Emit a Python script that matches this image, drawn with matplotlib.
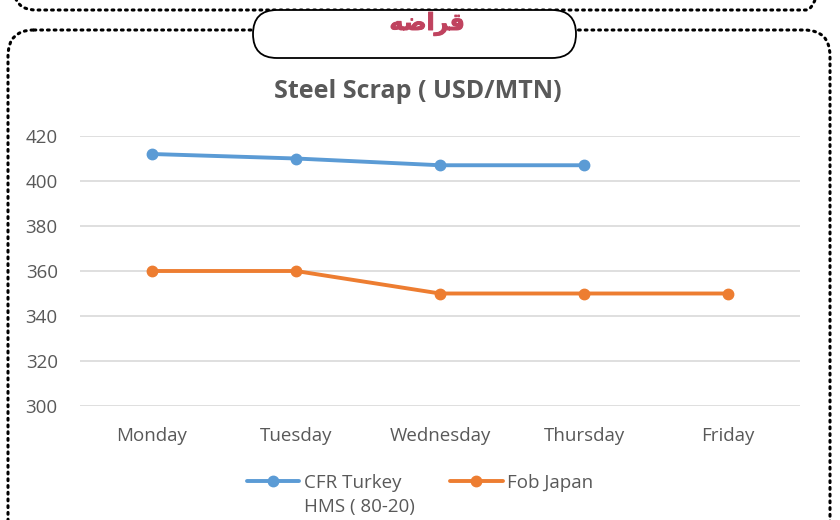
import matplotlib
matplotlib.use("Agg")
import matplotlib.pyplot as plt
import matplotlib.patheffects as pe
from matplotlib.patches import FancyBboxPatch

days = ["Monday", "Tuesday", "Wednesday", "Thursday", "Friday"]
cfr_turkey = [412, 410, 407, 407]
fob_japan = [360, 360, 350, 350, 350]
series_names = [("CFR Turkey", "HMS ( 80-20)"), ("Fob Japan", "")]
y_ticks = [300, 320, 340, 360, 380, 400, 420]
chart_title = "Steel Scrap ( USD/MTN)"
header = "قراضه"

# contextual forms for the header letters (matplotlib does no Arabic shaping)
forms = {"ق": ("\ufed5", "\ufed7", "\ufed8", "\ufed6"),
         "ر": ("\ufead", None, None, "\ufeae"),
         "ا": ("\ufe8d", None, None, "\ufe8e"),
         "ض": ("\ufebd", "\ufebf", "\ufec0", "\ufebe"),
         "ه": ("\ufee9", "\ufeeb", "\ufeec", "\ufeea")}

def shape(word):
    out = []
    for i, ch in enumerate(word):
        prev_joins = i > 0 and forms[word[i - 1]][1] is not None
        next_joins = i < len(word) - 1 and forms[ch][1] is not None
        iso, ini, med, fin = forms[ch]
        if prev_joins and next_joins:
            out.append(med)
        elif prev_joins:
            out.append(fin)
        elif next_joins:
            out.append(ini)
        else:
            out.append(iso)
    return "".join(reversed(out))

plt.rcParams["font.family"] = ["Open Sans", "DejaVu Sans"]
grey = "#595959"
blue = "#5b9bd5"
orange = "#ed7d31"
crimson = "#c0435f"

fig = plt.figure(figsize=(8.4, 5.2), dpi=100)

# decoration layer in pixel coordinates
bg = fig.add_axes([0, 0, 1, 1])
bg.set_xlim(0, 840)
bg.set_ylim(520, 0)
bg.set_axis_off()
dots = dict(facecolor="none", edgecolor="black", lw=2.2, linestyle=(0, (0.6, 1.6)),
            capstyle="round")
bg.add_patch(FancyBboxPatch((14, -200), 814, 210,
                            boxstyle="round,pad=0,rounding_size=22", **dots))
bg.add_patch(FancyBboxPatch((8, 30), 822, 560,
                            boxstyle="round,pad=0,rounding_size=26", **dots))
bg.add_patch(FancyBboxPatch((253, 10), 323, 48,
                            boxstyle="round,pad=0,rounding_size=24",
                            facecolor="white", edgecolor="black", lw=1.3, zorder=5))
bg.text(427, 24, shape(header), ha="center", va="center", fontsize=17,
        fontweight="bold", color=crimson, family="DejaVu Sans", zorder=6,
        path_effects=[pe.withStroke(linewidth=0.7, foreground=crimson)])
bg.text(418, 92, chart_title, ha="center", va="center", fontsize=18,
        fontweight="bold", color=grey)

ax = fig.add_axes([80 / 840, 1 - 406 / 520, 720 / 840, 270 / 520])
ax.patch.set_alpha(0)
l1, = ax.plot(range(len(cfr_turkey)), cfr_turkey, color=blue, lw=2.8,
              marker="o", markersize=7.5, solid_capstyle="round")
l2, = ax.plot(range(len(fob_japan)), fob_japan, color=orange, lw=2.8,
              marker="o", markersize=7.5, solid_capstyle="round")
ax.set_xlim(-0.5, len(days) - 0.5)
ax.set_ylim(300, 420)
ax.set_yticks(y_ticks)
ax.set_xticks(range(len(days)))
ax.set_xticklabels(days)
ax.grid(axis="y", color="#d9d9d9", lw=1.2)
ax.set_axisbelow(True)
for s in ax.spines.values():
    s.set_visible(False)
ax.tick_params(length=0, colors=grey, labelsize=13.5)
ax.tick_params(axis="x", pad=15)
ax.tick_params(axis="y", pad=16)

leg = fig.legend([l1, l2], [n[0] for n in series_names], loc="center",
                 bbox_to_anchor=(0.5, 1 - 483 / 520), ncol=2, frameon=False,
                 fontsize=13.5, handlelength=2.8, handletextpad=0.25,
                 columnspacing=2.6)
for t in leg.get_texts():
    t.set_color(grey)

# second line of the first legend label, under the first line
fig.canvas.draw()
for t, (first, second) in zip(leg.get_texts(), series_names):
    if second:
        bb = t.get_window_extent()
        fig.text(bb.x0 / 840, (bb.y0 - 6) / 520, second, ha="left", va="top",
                 fontsize=13.5, color=grey)

fig.savefig("out.png", dpi=100)
